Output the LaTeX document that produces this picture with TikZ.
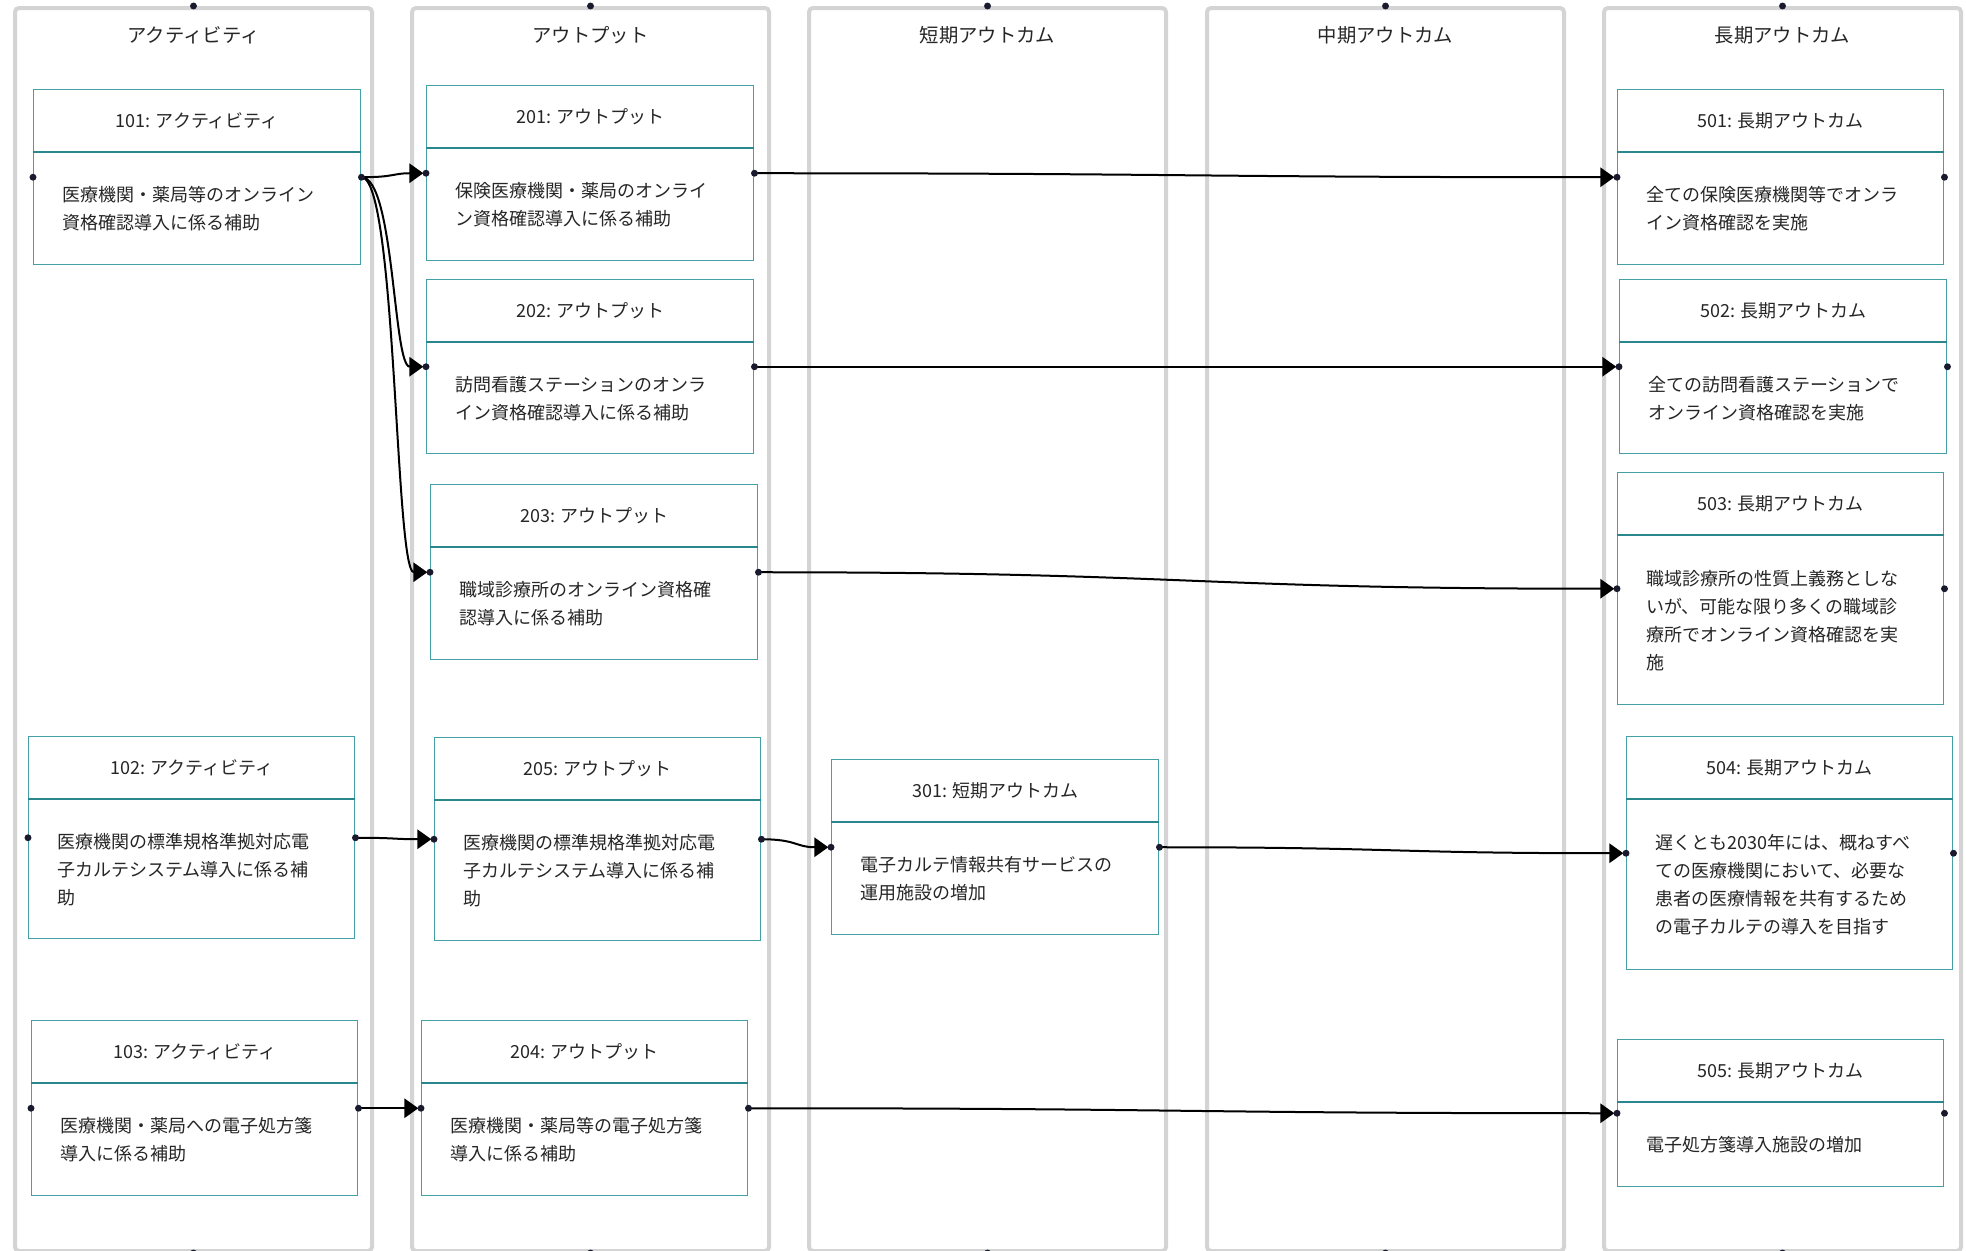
\documentclass[tikz,border=0pt]{standalone}
\usepackage{fontspec}
\setmainfont{Noto Sans CJK JP}
\newfontfamily\jp{Noto Sans CJK JP}
\usetikzlibrary{arrows.meta,calc}
\definecolor{laneg}{HTML}{D4D4D4}
\definecolor{boxc}{HTML}{45A0A5}
\definecolor{divc}{HTML}{2A878D}
\definecolor{txt}{HTML}{262626}
\definecolor{dotc}{HTML}{1A1A2E}
\newcommand\mkbox[7]{%
  \node[lmbox, minimum width=#4*0.75pt, minimum height=#5*0.75pt] (#1) at (#2,#3) {};
  \draw[lmdiv] ([yshift=-47.25pt]#1.north west) -- ([yshift=-47.25pt]#1.north east);
  \node[lmhead] (#1h) at ([yshift=-23.625pt]#1.north) {#6};
  \node[lmbody] (#1t) at ($([yshift=-47.25pt]#1.north west)!0.5!(#1.south west)+(29,0)$) {#7};
}
\begin{document}
\begin{tikzpicture}[x=0.75pt,y=-0.75pt,
  lanebox/.style={draw=laneg, line width=3pt, rounded corners=3pt, inner sep=0pt, anchor=north west,
    minimum width=357*0.75pt, minimum height=1243*0.75pt},
  lanetitle/.style={font=\jp\fontsize{14.5pt}{18pt}\selectfont, text=txt, inner sep=0pt},
  lmbox/.style={draw=boxc, line width=1.1pt, fill=white, inner sep=0pt, anchor=north west},
  lmdiv/.style={draw=divc, line width=0.9pt},
  lmhead/.style={font=\jp\fontsize{13.5pt}{21pt}\selectfont, text=txt, inner sep=0pt},
  lmbody/.style={font=\jp\fontsize{13.5pt}{21pt}\selectfont, text=txt, inner sep=0pt, anchor=west, align=left},
  lmarrow/.style={draw=black, line width=1.5pt, -{Triangle[length=10.5pt, width=14.5pt]}, shorten >=2pt},
  dot/.style={fill=dotc}
]
\useasboundingbox (0,0) rectangle (1966,1250);
\fill[white] (0,0) rectangle (1966,1250);
% lanes
\node[lanebox] (L1) at (13,6) {};
\node[lanebox] (L2) at (410,6) {};
\node[lanebox] (L3) at (807,6) {};
\node[lanebox] (L4) at (1205,6) {};
\node[lanebox] (L5) at (1602,6) {};
\node[lanetitle] (T1) at ($(L1.north)+(0,29)$) {アクティビティ};
\node[lanetitle] (T2) at ($(L2.north)+(0,29)$) {アウトプット};
\node[lanetitle] (T3) at ($(L3.north)+(0,29)$) {短期アウトカム};
\node[lanetitle] (T4) at ($(L4.north)+(0,29)$) {中期アウトカム};
\node[lanetitle] (T5) at ($(L5.north)+(0,29)$) {長期アウトカム};
% activity
\mkbox{b101}{33}{89}{327}{175}{101: アクティビティ}{医療機関・薬局等のオンライン\\資格確認導入に係る補助}
\mkbox{b102}{28}{736}{326}{202}{102: アクティビティ}{医療機関の標準規格準拠対応電\\子カルテシステム導入に係る補\\助}
\mkbox{b103}{31}{1020}{326}{175}{103: アクティビティ}{医療機関・薬局への電子処方箋\\導入に係る補助}
% output
\mkbox{b201}{426}{85}{327}{175}{201: アウトプット}{保険医療機関・薬局のオンライ\\ン資格確認導入に係る補助}
\mkbox{b202}{426}{279}{327}{174}{202: アウトプット}{訪問看護ステーションのオンラ\\イン資格確認導入に係る補助}
\mkbox{b203}{430}{484}{327}{175}{203: アウトプット}{職域診療所のオンライン資格確\\認導入に係る補助}
\mkbox{b205}{434}{737}{326}{203}{205: アウトプット}{医療機関の標準規格準拠対応電\\子カルテシステム導入に係る補\\助}
\mkbox{b204}{421}{1020}{326}{175}{204: アウトプット}{医療機関・薬局等の電子処方箋\\導入に係る補助}
% short term
\mkbox{b301}{831}{759}{327}{175}{301: 短期アウトカム}{電子カルテ情報共有サービスの\\運用施設の増加}
% long term
\mkbox{b501}{1617}{89}{326}{175}{501: 長期アウトカム}{全ての保険医療機関等でオンラ\\イン資格確認を実施}
\mkbox{b502}{1619}{279}{327}{174}{502: 長期アウトカム}{全ての訪問看護ステーションで\\オンライン資格確認を実施}
\mkbox{b503}{1617}{472}{326}{232}{503: 長期アウトカム}{職域診療所の性質上義務としな\\いが、可能な限り多くの職域診\\療所でオンライン資格確認を実\\施}
\mkbox{b504}{1626}{736}{326}{233}{504: 長期アウトカム}{遅くとも2030年には、概ねすべ\\ての医療機関において、必要な\\患者の医療情報を共有するため\\の電子カルテの導入を目指す}
\mkbox{b505}{1617}{1039}{326}{147}{505: 長期アウトカム}{電子処方箋導入施設の増加}
% connectors
\draw[lmarrow] (b101.east) .. controls +(33,0) and +(-33,0) .. (b201.west);
\draw[lmarrow] (b101.east) .. controls +(33,0) and +(-33,0) .. (b202.west);
\draw[lmarrow] (b101.east) .. controls +(35,0) and +(-35,0) .. (b203.west);
\draw[lmarrow] (b201.east) .. controls +(432,0) and +(-432,0) .. (b501.west);
\draw[lmarrow] (b202.east) .. controls +(433,0) and +(-433,0) .. (b502.west);
\draw[lmarrow] (b203.east) .. controls +(430,0) and +(-430,0) .. (b503.west);
\draw[lmarrow] (b102.east) .. controls +(40,0) and +(-40,0) .. (b205.west);
\draw[lmarrow] (b205.east) .. controls +(35,0) and +(-35,0) .. (b301.west);
\draw[lmarrow] (b301.east) .. controls +(234,0) and +(-234,0) .. (b504.west);
\draw[lmarrow] (b103.east) .. controls +(32,0) and +(-32,0) .. (b204.west);
\draw[lmarrow] (b204.east) .. controls +(435,0) and +(-435,0) .. (b505.west);
% dots
\foreach \n in {b101,b102,b103,b201,b202,b203,b204,b205,b301,b501,b502,b503,b504,b505}{
  \fill[dot] (\n.west) circle (2.6pt);
  \fill[dot] (\n.east) circle (2.6pt);
}
\foreach \n in {L1,L2,L3,L4,L5}{
  \fill[dot] (\n.north) circle (2.6pt);
  \fill[dot] (\n.south) circle (2.6pt);
}
\end{tikzpicture}
\end{document}
